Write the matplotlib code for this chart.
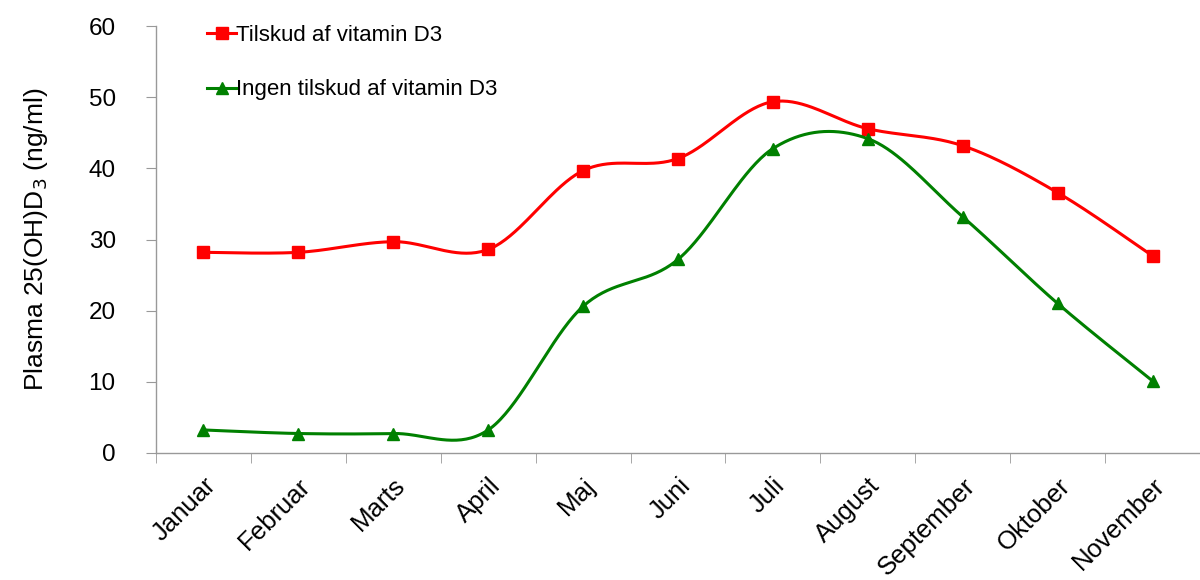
import numpy as np
import matplotlib.pyplot as plt

plt.rcParams['font.family'] = ['Liberation Sans', 'DejaVu Sans']

# Data
months = ['Januar', 'Februar', 'Marts', 'April', 'Maj', 'Juni', 'Juli',
          'August', 'September', 'Oktober', 'November']
med_tilskud = [28.2, 28.2, 29.7, 28.6, 39.7, 41.4, 49.4, 45.6, 43.2, 36.6, 27.7]
uden_tilskud = [3.2, 2.7, 2.7, 3.2, 20.6, 27.2, 42.8, 44.2, 33.2, 21.0, 10.1]


def smooth(x, y, n=40):
    # Excel-like smoothed line (Catmull-Rom style bezier through the points)
    x = np.asarray(x, float)
    y = np.asarray(y, float)
    px = np.concatenate([[x[0]], x, [x[-1]]])
    py = np.concatenate([[y[0]], y, [y[-1]]])
    xs, ys = [], []
    t = np.linspace(0, 1, n)
    for i in range(1, len(px) - 2):
        p0 = np.array([px[i], py[i]])
        p3 = np.array([px[i + 1], py[i + 1]])
        p1 = p0 + (np.array([px[i + 1], py[i + 1]]) - np.array([px[i - 1], py[i - 1]])) / 6
        p2 = p3 - (np.array([px[i + 2], py[i + 2]]) - np.array([px[i], py[i]])) / 6
        b = ((1 - t) ** 3)[:, None] * p0 + (3 * (1 - t) ** 2 * t)[:, None] * p1 \
            + (3 * (1 - t) * t ** 2)[:, None] * p2 + (t ** 3)[:, None] * p3
        xs.extend(b[:, 0])
        ys.extend(b[:, 1])
    return xs, ys


fig = plt.figure(figsize=(12, 5.8), dpi=100)
ax = fig.add_axes([0.13, 0.2195, 0.87, 0.735])

x = np.arange(len(months))
red = '#FF0000'
green = '#008000'

sx, sy = smooth(x, med_tilskud)
ax.plot(sx, sy, color=red, lw=2.2)
ax.plot(x, med_tilskud, 's', color=red, ms=8)
sx, sy = smooth(x, uden_tilskud)
ax.plot(sx, sy, color=green, lw=2.2)
ax.plot(x, uden_tilskud, '^', color=green, ms=9)

# legend entries
h1, = ax.plot([], [], color=red, lw=2.2, marker='s', ms=8)
h2, = ax.plot([], [], color=green, lw=2.2, marker='^', ms=9)
ax.legend([h1, h2], ['Tilskud af vitamin D3', 'Ingen tilskud af vitamin D3'],
          loc='upper left', bbox_to_anchor=(0.03, 1.05), frameon=False,
          fontsize=16, handlelength=1.3, handletextpad=0.0, labelspacing=1.5)

ax.set_xlim(-0.5, len(months) - 0.5)
ax.set_ylim(0, 60)
ax.set_yticks(range(0, 61, 10))
ax.set_xticks(x)
ax.set_xticklabels(months, rotation=45, ha='right', rotation_mode='anchor')
ax.set_xticks(np.arange(-0.5, len(months) - 0.5, 1), minor=True)

for s in ['top', 'right']:
    ax.spines[s].set_visible(False)
for s in ['left', 'bottom']:
    ax.spines[s].set_color('#999999')
    ax.spines[s].set_linewidth(1.0)

ax.tick_params(axis='x', which='major', length=0, pad=15, labelsize=18.5)
ax.tick_params(axis='x', which='minor', length=7, color='#999999')
ax.tick_params(axis='y', length=7, color='#999999', labelsize=17.5, pad=22)

ax.set_ylabel('Plasma 25(OH)D$_3$ (ng/ml)', fontsize=19, labelpad=28)

fig.savefig('out.png', dpi=100)
